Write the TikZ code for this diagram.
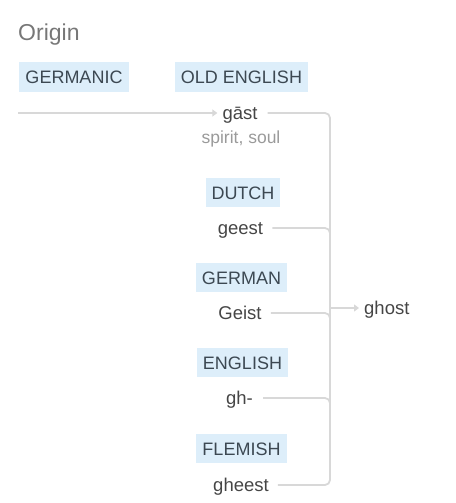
\documentclass[tikz,border=0pt]{standalone}
\usepackage{fontspec}
\setmainfont{Liberation Sans}
\usetikzlibrary{arrows.meta}
\definecolor{boxfill}{HTML}{DDEEFA}
\definecolor{boxtext}{HTML}{3C4852}
\definecolor{wordtext}{HTML}{454545}
\definecolor{glosstext}{HTML}{9A9A9A}
\definecolor{linecol}{HTML}{D8D8D8}
\definecolor{titletext}{HTML}{777777}
\tikzset{
  lang/.style={fill=boxfill, text=boxtext, font=\fontsize{18}{20}\selectfont, inner xsep=6pt, minimum height=29pt, text depth=0pt, text height=13pt},
  word/.style={text=wordtext, font=\fontsize{18.5}{20}\selectfont, inner xsep=0pt, inner ysep=2pt},
  gloss/.style={text=glosstext, font=\fontsize{17.5}{19}\selectfont, inner sep=0pt},
  conn/.style={draw=linecol, line width=1.8pt},
  tip/.style={-{Triangle[width=7pt,length=5pt]}}
}
\begin{document}
\begin{tikzpicture}[x=1pt,y=-1pt]
\useasboundingbox (0,0) rectangle (455,503);
\node[text=titletext, font=\fontsize{23}{25}\selectfont, anchor=base west, inner sep=0pt] (title) at (18,41) {Origin};
\node[lang] (germanic) at (74,77) {GERMANIC};
\node[lang] (oldeng) at (241.5,77) {OLD ENGLISH};
\node[word, anchor=base] (gast) at (240,119) {gāst};
\node[gloss, anchor=base] (gloss) at (241,143) {spirit, soul};
\node[lang] (dutch) at (243,192.5) {DUTCH};
\node[word, anchor=base] (geest) at (240.5,234) {geest};
\node[lang] (german) at (241.5,277.5) {GERMAN};
\node[word, anchor=base] (geist) at (240,319) {Geist};
\node[lang] (english) at (242.5,362.5) {ENGLISH};
\node[word, anchor=base] (gh) at (239.5,404) {gh-};
\node[lang] (flemish) at (241.5,448.5) {FLEMISH};
\node[word, anchor=base] (gheest) at (241,491) {gheest};
\node[word, anchor=base west] (ghost) at (364,314) {ghost};
\coordinate (start) at (18,113);
\coordinate (jtop) at (330,113);
\coordinate (jbot) at (330,485);
\coordinate (j1) at (330,228);
\coordinate (j2) at (330,313);
\coordinate (j3) at (330,398);
\coordinate (jout) at (330,308);
% Germanic to gast
\draw[conn, tip] (start) -- ([xshift=-5pt]gast.west |- start);
% gast to ghost trunk
\draw[conn, rounded corners=5pt] ([xshift=10pt]gast.east |- jtop) -- (jtop) -- (jbot) -- ([xshift=9pt]gheest.east |- jbot);
\draw[conn, rounded corners=5pt] ([xshift=9pt]geest.east |- j1) -- (j1) -- ([yshift=-6pt]j1);
\draw[conn, rounded corners=5pt] ([xshift=9pt]geist.east |- j2) -- (j2) -- ([yshift=-6pt]j2);
\draw[conn, rounded corners=5pt] ([xshift=10pt]gh.east |- j3) -- (j3) -- ([yshift=-6pt]j3);
\draw[conn, tip] (jout) -- ([xshift=-5pt]ghost.west |- jout);
\end{tikzpicture}
\end{document}
